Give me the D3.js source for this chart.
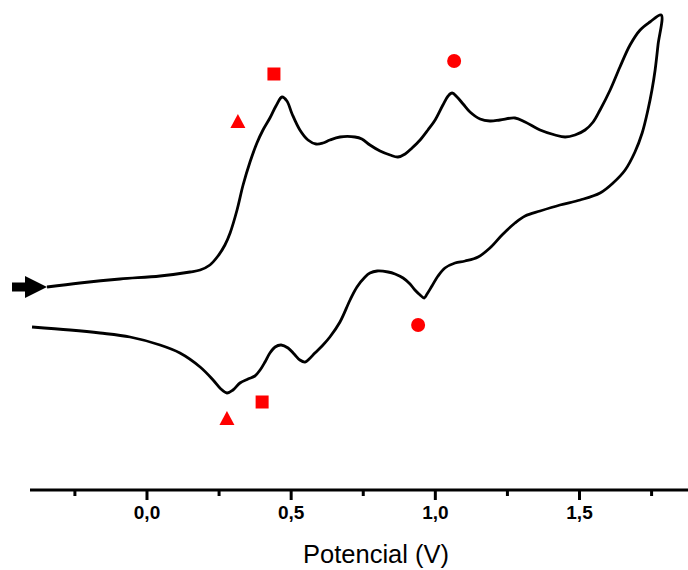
<!DOCTYPE html>
<html>
<head>
<meta charset="utf-8">
<script src="https://cdn.jsdelivr.net/npm/d3@7"></script>
<style>
  html, body { margin: 0; padding: 0; background: #fff; }
  svg { display: block; }
</style>
</head>
<body>
<svg id="chart" width="688" height="570"></svg>
<script>
// Cyclic voltammogram: potential (V) vs current (arbitrary units)

// Forward (anodic) scan
const forwardE = [-0.345, -0.231, -0.092, 0.047, 0.151, 0.186, 0.220, 0.248, 0.272, 0.290,
  0.314, 0.335, 0.359, 0.383, 0.404, 0.428, 0.449, 0.470, 0.487, 0.505,
  0.532, 0.560, 0.588, 0.612, 0.636, 0.671, 0.723, 0.747, 0.775, 0.810,
  0.845, 0.872, 0.897, 0.921, 0.949, 0.976, 1.001, 1.028, 1.046, 1.060,
  1.077, 1.098, 1.122, 1.157, 1.191, 1.226, 1.278, 1.313, 1.365, 1.417,
  1.452, 1.486, 1.521, 1.549, 1.573, 1.608, 1.642, 1.677, 1.712, 1.746, 1.785];
const forwardI = [0.1, 0.5, 0.9, 1.2, 1.6, 1.8, 2.3, 3.2, 4.3, 5.5,
  7.8, 10.3, 12.6, 14.5, 15.8, 17.0, 18.2, 19.1, 18.7, 17.4,
  15.8, 14.8, 14.4, 14.5, 14.8, 15.1, 15.1, 14.9, 14.3, 13.7,
  13.3, 13.1, 13.4, 14.0, 14.8, 15.8, 16.8, 18.3, 19.2, 19.5,
  19.1, 18.4, 17.6, 16.9, 16.7, 16.8, 17.0, 16.6, 15.8, 15.3,
  15.1, 15.3, 15.8, 16.6, 17.8, 19.8, 22.1, 24.3, 25.8, 26.6, 27.3];

// Reverse (cathodic) scan
const reverseE = [1.785, 1.774, 1.764, 1.753, 1.739, 1.719, 1.694, 1.660, 1.618, 1.573,
  1.504, 1.434, 1.365, 1.313, 1.278, 1.233, 1.191, 1.150, 1.105, 1.070,
  1.035, 1.011, 0.990, 0.973, 0.963, 0.949, 0.931, 0.914, 0.890, 0.862,
  0.838, 0.800, 0.775, 0.758, 0.730, 0.706, 0.671, 0.636, 0.609, 0.584,
  0.564, 0.550, 0.532, 0.512, 0.491, 0.467, 0.446, 0.428, 0.411, 0.394,
  0.376, 0.352, 0.324, 0.300, 0.279, 0.258, 0.231, 0.186, 0.116, 0.047,
  -0.057, -0.161, -0.265, -0.397];
const reverseI = [27.3, 24.3, 21.8, 19.8, 17.8, 15.5, 13.6, 11.8, 10.5, 9.5,
  8.8, 8.3, 7.7, 7.2, 6.5, 5.3, 4.0, 3.1, 2.7, 2.5,
  2.0, 1.2, 0.2, -0.6, -1.0, -0.7, -0.2, 0.4, 1.0, 1.4,
  1.6, 1.7, 1.5, 1.1, 0.1, -1.2, -3.4, -4.9, -5.8, -6.5,
  -7.1, -7.4, -7.2, -6.6, -6.0, -5.7, -5.9, -6.5, -7.4, -8.2,
  -8.8, -9.1, -9.5, -10.2, -10.5, -10.1, -9.2, -7.9, -6.5, -5.7,
  -4.9, -4.5, -4.2, -3.9];

// Peak markers (redox couples)
const markerShapes = ["triangle", "square", "circle", "triangle", "square", "circle"];
const markerE = [0.317, 0.442, 1.067, 0.279, 0.401, 0.942];
const markerI = [16.6, 21.4, 22.7, -13.1, -11.4, -3.7];

// Axis ticks
const majorTicks = [0, 0.5, 1.0, 1.5];
const minorTicks = [-0.25, 0.25, 0.75, 1.25, 1.75];
const tickLabels = ["0,0", "0,5", "1,0", "1,5"];
const xTitle = "Potencial (V)";

const svg = d3.select("#chart");
const axisY = 490;

const x = d3.scaleLinear().domain([-0.404, 1.878]).range([30, 688]);
const y = d3.scaleLinear().domain([-20.2, 28.8]).range([490, 0]);

const forward = forwardE.map((e, k) => [e, forwardI[k]]);
const reverse = reverseE.map((e, k) => [e, reverseI[k]]);
const scan = forward.concat(reverse.slice(1));

const line = d3.line()
  .x(d => x(d[0]))
  .y(d => y(d[1]))
  .curve(d3.curveCatmullRom.alpha(0.5));

svg.append("path")
  .datum(scan)
  .attr("d", line)
  .attr("fill", "none")
  .attr("stroke", "#000")
  .attr("stroke-width", 2.8)
  .attr("stroke-linejoin", "miter");

// Scan direction arrow at the start of the forward sweep
const sx = x(forward[0][0]), sy = y(forward[0][1]);
const arrow = svg.append("g").attr("transform", `translate(${sx},${sy})`);
arrow.append("rect")
  .attr("x", -35).attr("y", -4.5).attr("width", 16).attr("height", 9)
  .attr("fill", "#000");
arrow.append("path")
  .attr("d", "M0,0 L-22,-11 L-22,11 Z")
  .attr("fill", "#000");

// Markers
const red = "#ff0000";
const markers = svg.append("g");
markerShapes.forEach((s, k) => {
  const cx = x(markerE[k]), cy = y(markerI[k]);
  if (s === "circle") {
    markers.append("circle").attr("cx", cx).attr("cy", cy).attr("r", 7).attr("fill", red);
  } else if (s === "square") {
    markers.append("rect").attr("x", cx - 6.5).attr("y", cy - 6.5)
      .attr("width", 13).attr("height", 13).attr("fill", red);
  } else {
    markers.append("path")
      .attr("d", `M${cx},${cy - 8} L${cx + 7.5},${cy + 6} L${cx - 7.5},${cy + 6} Z`)
      .attr("fill", red);
  }
});

// X axis
const axis = svg.append("g").attr("transform", `translate(0,${axisY})`);
axis.append("line")
  .attr("x1", 30).attr("x2", 688).attr("y1", 0).attr("y2", 0)
  .attr("stroke", "#000").attr("stroke-width", 3);

const major = d3.axisBottom(x)
  .tickValues(majorTicks)
  .tickSize(10)
  .tickSizeOuter(0)
  .tickPadding(6)
  .tickFormat((d, k) => tickLabels[k]);
const gMajor = axis.append("g").call(major)
  .attr("font-family", "'Liberation Sans', Arial, sans-serif")
  .attr("font-size", 19)
  .attr("font-weight", "bold");
gMajor.select(".domain").remove();
gMajor.selectAll(".tick line").attr("stroke", "#000").attr("stroke-width", 3);
gMajor.selectAll(".tick text").attr("fill", "#000");

const minor = d3.axisBottom(x)
  .tickValues(minorTicks)
  .tickSize(6)
  .tickSizeOuter(0)
  .tickFormat("");
const gMinor = axis.append("g").call(minor);
gMinor.select(".domain").remove();
gMinor.selectAll(".tick line").attr("stroke", "#000").attr("stroke-width", 3);

svg.append("text")
  .attr("x", 376)
  .attr("y", 563)
  .attr("text-anchor", "middle")
  .attr("font-family", "'Liberation Sans', Arial, sans-serif")
  .attr("font-size", 25.5)
  .attr("fill", "#000")
  .text(xTitle);
</script>
</body>
</html>
